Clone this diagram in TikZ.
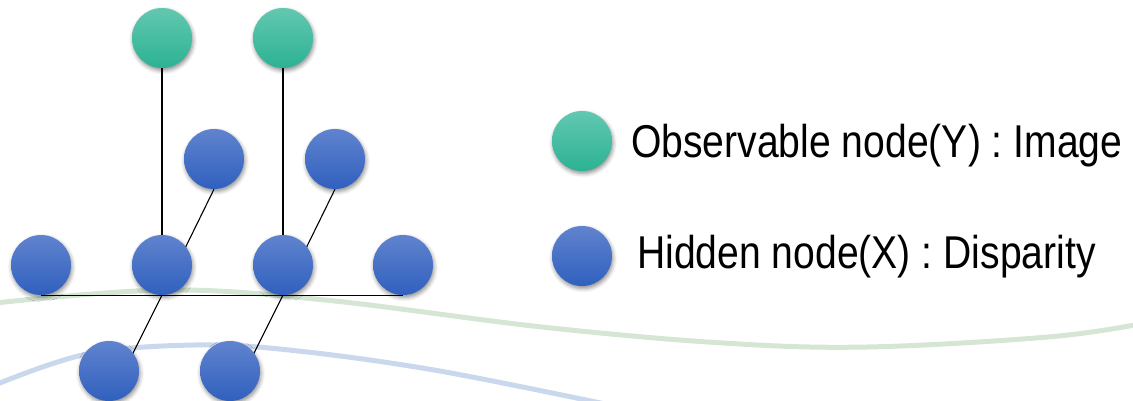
\documentclass[tikz,border=0pt]{standalone}
\usepackage{fontspec}
\setmainfont{Liberation Sans}
\usetikzlibrary{backgrounds,shadows.blur}
\definecolor{gtop}{RGB}{98,200,176}
\definecolor{gbot}{RGB}{44,178,148}
\definecolor{btop}{RGB}{96,131,206}
\definecolor{bbot}{RGB}{48,96,190}
\definecolor{gcurve}{RGB}{213,231,212}
\definecolor{bcurve}{RGB}{202,216,238}
\tikzset{
  dot/.style={circle,inner sep=0pt,minimum size=60pt,
    blur shadow={shadow xshift=1pt,shadow yshift=-2.5pt,shadow blur radius=4pt,shadow opacity=45}},
  obsnode/.style={dot,top color=gtop,bottom color=gbot},
  hidnode/.style={dot,top color=btop,bottom color=bbot},
  link/.style={draw=black,line width=1.1pt},
  wave/.style={line width=5pt,line cap=round},
  legtext/.style={anchor=base west,inner sep=0pt,font=\fontsize{46}{52}\selectfont}
}
\begin{document}
\begin{tikzpicture}[x=1pt,y=-1pt]
\useasboundingbox (0,0) rectangle (1133,401);
% observable
\node[obsnode] (y1) at (162,38) {};
\node[obsnode] (y2) at (283,38) {};
% hidden
\node[hidnode] (m1) at (214,159) {};
\node[hidnode] (m2) at (335,159) {};
\node[hidnode] (r1) at (41,265) {};
\node[hidnode] (r2) at (162,265) {};
\node[hidnode] (r3) at (283,265) {};
\node[hidnode] (r4) at (403,265) {};
\node[hidnode] (b1) at (109,371) {};
\node[hidnode] (b2) at (230,371) {};
% legend
\node[obsnode] (ly) at (582,141) {};
\node[hidnode] (lx) at (582,256) {};
\node[legtext] (ty) at (631,158) {\scalebox{0.85}[1]{Observable node(Y) : Image}};
\node[legtext] (tx) at (637,268) {\scalebox{0.85}[1]{Hidden node(X) : Disparity}};
\begin{scope}[on background layer]
  \draw[wave,gcurve] plot[smooth,tension=0.6] coordinates
    {(-5,303) (166,290) (325,300) (542,327) (723,343) (867,347) (1048,337) (1140,324)};
  \draw[wave,bcurve] plot[smooth,tension=0.6] coordinates
    {(-5,385) (87,354) (195,345) (289,350) (434,370) (610,405)};
  \draw[link] (y1) -- (r2);
  \draw[link] (y2) -- (r3);
  \draw[link] (m1.south) -- (r2.south);
  \draw[link] (m2.south) -- (r3.south);
  \draw[link] (r2.south) -- (b1.south);
  \draw[link] (r3.south) -- (b2.south);
  \draw[link] (r1.south) -- (r4.south);
\end{scope}
\end{tikzpicture}
\end{document}
